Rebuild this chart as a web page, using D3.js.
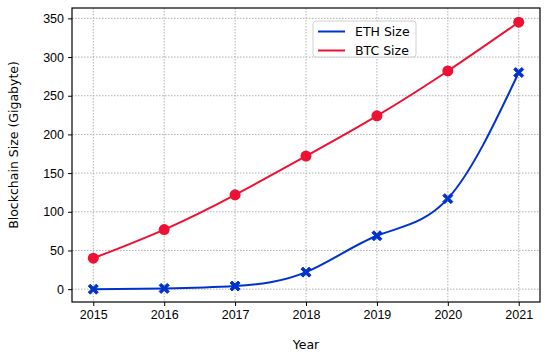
<!DOCTYPE html>
<html>
<head>
<meta charset="utf-8">
<script src="https://cdn.jsdelivr.net/npm/d3@7"></script>
<style>
  body { margin: 0; background: #fff; }
  svg { font-family: 'DejaVu Sans', sans-serif; }
</style>
</head>
<body>
<svg id="chart" width="550" height="356"></svg>
<script>
const years = [2015, 2016, 2017, 2018, 2019, 2020, 2021];
const ethSize = [0, 1, 4, 22, 69, 117, 280];
const btcSize = [40, 77, 122, 172, 224, 282, 345];
const yTicks = [0, 50, 100, 150, 200, 250, 300, 350];

const margin = { top: 8, right: 10, bottom: 54, left: 72 };
const width = 550 - margin.left - margin.right,
  height = 356 - margin.top - margin.bottom;

const blue = '#0033cc';
const red = '#ee1133';

const svg = d3.select('#chart')
  .append('g')
  .attr('transform', `translate(${margin.left},${margin.top})`);

const x = d3.scaleLinear().domain([2014.7, 2021.3]).range([0, width]);
const y = d3.scaleLinear().domain([-16.6, 363.4]).range([height, 0]);

// grid
svg.append('g')
  .selectAll('line')
  .data(years)
  .join('line')
  .attr('x1', (d) => x(d)).attr('x2', (d) => x(d))
  .attr('y1', 0).attr('y2', height)
  .attr('stroke', '#b0b0b0')
  .attr('stroke-width', 1)
  .attr('stroke-dasharray', '1.5,1.5');

svg.append('g')
  .selectAll('line')
  .data(yTicks)
  .join('line')
  .attr('y1', (d) => y(d)).attr('y2', (d) => y(d))
  .attr('x1', 0).attr('x2', width)
  .attr('stroke', '#b0b0b0')
  .attr('stroke-width', 1)
  .attr('stroke-dasharray', '1.5,1.5');

// axes
const xAxis = d3.axisBottom(x).tickValues(years).tickFormat(d3.format('d')).tickSize(4).tickPadding(4);
svg.append('g')
  .attr('transform', `translate(0,${height})`)
  .call(xAxis)
  .call((g) => g.select('.domain').remove())
  .selectAll('text')
  .style('font-size', '12.5px')
  .attr('fill', '#000');

const yAxis = d3.axisLeft(y).tickValues(yTicks).tickSize(4).tickPadding(4);
svg.append('g')
  .call(yAxis)
  .call((g) => g.select('.domain').remove())
  .selectAll('text')
  .style('font-size', '12.5px')
  .attr('fill', '#000');

svg.append('rect')
  .attr('width', width)
  .attr('height', height)
  .attr('fill', 'none')
  .attr('stroke', '#000')
  .attr('stroke-width', 1.2);

// lines
const ethPts = years.map((d, i) => [d, ethSize[i]]);
const btcPts = years.map((d, i) => [d, btcSize[i]]);

const line = d3.line()
  .x((d) => x(d[0]))
  .y((d) => y(d[1]))
  .curve(d3.curveNatural);

svg.append('path')
  .datum(btcPts)
  .attr('d', line)
  .attr('fill', 'none')
  .attr('stroke', red)
  .attr('stroke-width', 2);

svg.append('path')
  .datum(ethPts)
  .attr('d', line)
  .attr('fill', 'none')
  .attr('stroke', blue)
  .attr('stroke-width', 2);

svg.append('g')
  .selectAll('circle')
  .data(btcPts)
  .join('circle')
  .attr('cx', (d) => x(d[0]))
  .attr('cy', (d) => y(d[1]))
  .attr('r', 5.5)
  .attr('fill', red);

// filled X marker
const xMarker = 'M-5,-3L-3,-5L0,-2L3,-5L5,-3L2,0L5,3L3,5L0,2L-3,5L-5,3L-2,0Z';
svg.append('g')
  .selectAll('path')
  .data(ethPts)
  .join('path')
  .attr('transform', (d) => `translate(${x(d[0])},${y(d[1])})`)
  .attr('d', xMarker)
  .attr('fill', blue)
  .attr('stroke', blue)
  .attr('stroke-width', 1);

// legend
const legend = svg.append('g').attr('transform', `translate(${313 - margin.left},${21 - margin.top})`);
legend.append('rect')
  .attr('width', 103).attr('height', 36)
  .attr('rx', 3)
  .attr('fill', '#fff').attr('fill-opacity', 0.85)
  .attr('stroke', '#d0d0d0');
const legendItems = [['ETH Size', blue], ['BTC Size', red]];
legendItems.forEach(([name, color], i) => {
  const yy = 10.5 + i * 19;
  legend.append('line')
    .attr('x1', 5).attr('x2', 32)
    .attr('y1', yy).attr('y2', yy)
    .attr('stroke', color).attr('stroke-width', 2);
  legend.append('text')
    .attr('x', 42).attr('y', yy)
    .attr('dy', '0.35em')
    .style('font-size', '12.5px')
    .text(name);
});

// axis titles
svg.append('text')
  .attr('x', width / 2)
  .attr('y', height + 47)
  .attr('text-anchor', 'middle')
  .style('font-size', '12.5px')
  .text('Year');

svg.append('text')
  .attr('transform', `translate(${14 - margin.left},${145 - margin.top}) rotate(-90)`)
  .attr('text-anchor', 'middle')
  .attr('dy', '0.35em')
  .style('font-size', '12.5px')
  .text('Blockchain Size (Gigabyte)');
</script>
</body>
</html>
